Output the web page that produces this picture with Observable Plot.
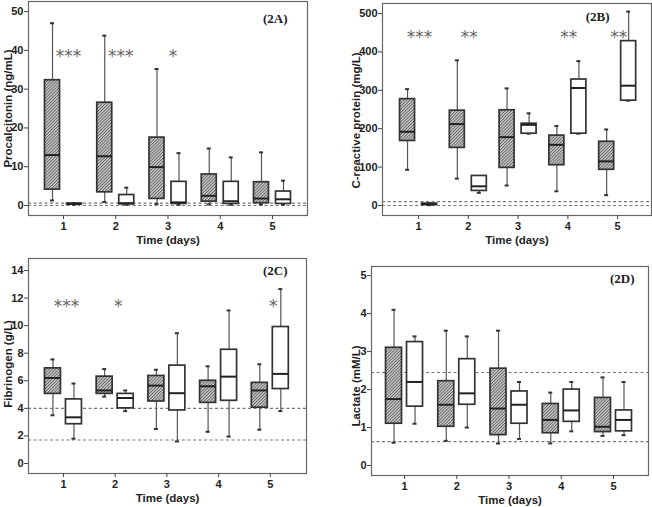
<!DOCTYPE html>
<html><head><meta charset="utf-8">
<script src="https://cdn.jsdelivr.net/npm/d3@7"></script>
<script src="https://cdn.jsdelivr.net/npm/@observablehq/plot@0.6"></script>
<style>
body{margin:0;background:#fff;}
#wrap{position:relative;width:652px;height:507px;overflow:hidden;}
#wrap svg{position:absolute;}
</style></head><body><div id="wrap"></div>
<script>
const days = [1, 2, 3, 4, 5];
// each entry: [min, q1, median, q3, max]
const pctHatched = [[1.3,4.1,13,32.3,47],[0.9,3.4,12.7,26.5,43.8],[0.4,1.7,9.9,17.5,35.2],[0.3,1.0,2.5,8.0,14.7],[0.3,0.6,1.8,6.0,13.7]];
const pctOpen    = [[0.2,0.3,0.4,0.5,0.6],[0.2,0.3,0.6,2.7,4.6],[0.2,0.4,0.8,6.1,13.5],[0.2,0.4,1.1,6.1,12.4],[0.2,0.4,1.6,3.6,6.4]];
const pctRef = [0, 0.6];
const pctStars = ["***", "***", "*", "", ""];
const pctTicks = [0, 10, 20, 30, 40, 50];

const crpHatched = [[93,168,192,277,303],[70,150,212,247,378],[52,98,178,248,305],[37,105,158,182,207],[27,93,115,166,198]];
const crpOpen    = [[1,2,3,5,6],[33,38,50,77,77],[187,187,210,213,240],[187,187,306,328,376],[273,273,312,428,505]];
const crpRef = [0, 10];
const crpStars = ["***", "**", "", "**", "**"];
const crpTicks = [0, 100, 200, 300, 400, 500];

const fibHatched = [[3.5,5.05,6.2,6.9,7.55],[4.85,5.05,5.3,6.3,6.85],[2.5,4.5,5.65,6.35,6.8],[2.3,4.4,5.6,6.0,7.05],[2.45,4.05,5.3,5.85,7.2]];
const fibOpen    = [[1.8,2.85,3.35,4.65,5.8],[3.8,4.0,4.75,5.05,5.3],[1.6,3.85,5.1,7.1,9.45],[1.95,4.55,6.3,8.25,11.1],[3.8,5.4,6.5,9.9,12.65]];
const fibRef = [1.7, 4];
const fibStars = ["***", "*", "", "", "*"];
const fibTicks = [0, 2, 4, 6, 8, 10, 12, 14];

const lacHatched = [[0.6,1.1,1.75,3.1,4.1],[0.65,1.02,1.6,2.22,3.55],[0.58,0.8,1.5,2.55,3.55],[0.58,0.85,1.2,1.62,1.92],[0.78,0.88,1.02,1.78,2.32]];
const lacOpen    = [[1.1,1.55,2.2,3.25,3.4],[1.0,1.6,1.9,2.8,3.4],[0.7,1.1,1.6,1.95,2.2],[0.9,1.15,1.45,2.0,2.2],[0.8,0.9,1.2,1.45,2.2]];
const lacRef = [0.63, 2.45];
const lacStars = ["", "", "", "", ""];
const lacTicks = [0, 1, 2, 3, 4, 5];

const panels = [
  {id:"A", left:0, top:0, width:326, height:253, m:[1,19,38,28], xd:[0.33,5.67], yd:[-2.58,52.6],
   hatched:pctHatched, open:pctOpen, ref:pctRef, stars:pctStars, starY:39, ticks:pctTicks,
   ytitle:"Procalcitonin (ng/mL)", ytdx:-20, ytdy:0, tag:"(2A)", tagdx:-20, tagdy:17, off:11, hw:7.5, sdx:5},
  {id:"B", left:326, top:0, width:326, height:253, m:[3,1,38,56], xd:[0.276,5.68], yd:[-26,526],
   hatched:crpHatched, open:crpOpen, ref:crpRef, stars:crpStars, starY:443, ticks:crpTicks,
   ytitle:"C-reactive protein (mg/L)", ytdx:-26, ytdy:11, tag:"(2B)", tagdx:-42, tagdy:13, off:11, hw:7.5, sdx:1},
  {id:"C", left:0, top:253, width:326, height:254, m:[5,20,34,28], xd:[0.324,5.70], yd:[-0.725,14.87],
   hatched:fibHatched, open:fibOpen, ref:fibRef, stars:fibStars, starY:11.55, ticks:fibTicks,
   ytitle:"Fibrinogen (g/L)", ytdx:-20.5, ytdy:-2, tag:"(2C)", tagdx:-19, tagdy:12, off:10.5, hw:8, sdx:3},
  {id:"D", left:326, top:253, width:326, height:254, m:[13,4,32,45], xd:[0.368,5.67], yd:[-0.263,5.24],
   hatched:lacHatched, open:lacOpen, ref:lacRef, stars:lacStars, starY:4, ticks:lacTicks,
   ytitle:"Lactate (mM/L)", ytdx:-15, ytdy:15, tag:"(2D)", tagdx:-14, tagdy:12, off:10.5, hw:8, sdx:0}
];

function toRows(arr, g) {
  return arr.map((s, i) => ({day: days[i], g, min: s[0], q1: s[1], med: s[2], q3: s[3], max: s[4]}));
}

const wrap = document.getElementById("wrap");
for (const p of panels) {
  const [mt, mr, mb, ml] = p.m;
  const pxPerDay = (p.width - ml - mr) / (p.xd[1] - p.xd[0]);
  const off = p.off / pxPerDay, hw = p.hw / pxPerDay, cw = 2 / pxPerDay;
  const rows = [...toRows(p.hatched, "h"), ...toRows(p.open, "o")];
  const cx = d => d.day + (d.g === "h" ? -off : off);
  const hRows = rows.filter(d => d.g === "h"), oRows = rows.filter(d => d.g === "o");
  const starRows = days.map((d, i) => ({day: d, s: p.stars[i]})).filter(d => d.s);
  const patId = "hatch" + p.id;
  const boxStyle = {x1: d => cx(d) - hw, x2: d => cx(d) + hw, y1: "q1", y2: "q3", stroke: "#333", strokeWidth: 1.7};
  const svg = Plot.plot({
    width: p.width, height: p.height,
    marginTop: mt, marginRight: mr, marginBottom: mb, marginLeft: ml,
    x: {domain: p.xd, axis: null},
    y: {domain: p.yd, axis: null},
    style: {fontFamily: "'Liberation Sans', Arial, sans-serif", fontSize: "11px", fontWeight: "bold", color: "#222", background: "transparent", overflow: "visible"},
    marks: [
      Plot.ruleY(p.ref, {stroke: "#777", strokeDasharray: "3,2.5", strokeWidth: 1.1}),
      Plot.ruleX(rows, {x: cx, y1: "q3", y2: "max", stroke: "#555", strokeWidth: 1.2}),
      Plot.ruleX(rows, {x: cx, y1: "min", y2: "q1", stroke: "#555", strokeWidth: 1.2}),
      Plot.ruleY(rows, {y: "max", x1: d => cx(d) - cw, x2: d => cx(d) + cw, stroke: "#333", strokeWidth: 2}),
      Plot.ruleY(rows, {y: "min", x1: d => cx(d) - cw, x2: d => cx(d) + cw, stroke: "#333", strokeWidth: 2}),
      Plot.rect(hRows, {...boxStyle, fill: `url(#${patId})`}),
      Plot.rect(oRows, {...boxStyle, fill: "white"}),
      Plot.ruleY(rows, {y: "med", x1: d => cx(d) - hw, x2: d => cx(d) + hw, stroke: "#222", strokeWidth: 2}),
      Plot.text(starRows, {x: "day", y: () => p.starY, text: "s", dx: p.sdx, dy: 2, fill: "#666", fontSize: 17, fontWeight: "normal", fontFamily: "'DejaVu Sans', sans-serif", letterSpacing: 1}),
      Plot.frame({stroke: "#666", strokeWidth: 1.2}),
      Plot.axisX({ticks: days, tickFormat: d => d, tickSize: 4, tickPadding: 2.5, stroke: "#444", label: null}),
      Plot.axisY({ticks: p.ticks, tickFormat: d => d, tickSize: 4, tickPadding: 1, stroke: "#444", label: null}),
      Plot.text([p.ytitle], {frameAnchor: "left", rotate: -90, dx: p.ytdx, dy: p.ytdy, lineAnchor: "middle", textAnchor: "middle", fontSize: 11.5, fill: "#222"}),
      Plot.text(["Time (days)"], {frameAnchor: "bottom", dy: 24.5, lineAnchor: "middle", fontSize: 11.5, fill: "#222"}),
      Plot.text([p.tag], {frameAnchor: "top-right", dx: p.tagdx, dy: p.tagdy, textAnchor: "end", lineAnchor: "middle", fontFamily: "'Liberation Serif', 'Times New Roman', serif", fontSize: 13, fontWeight: "bold", fill: "#222"})
    ]
  });
  const defs = d3.select(svg).insert("defs", ":first-child");
  const pat = defs.append("pattern").attr("id", patId).attr("patternUnits", "userSpaceOnUse")
    .attr("width", 2.2).attr("height", 2.2).attr("patternTransform", "rotate(45)");
  pat.append("rect").attr("width", 2.2).attr("height", 2.2).attr("fill", "#cdcdcd");
  pat.append("line").attr("x1", 0.45).attr("y1", 0).attr("x2", 0.45).attr("y2", 2.2).attr("stroke", "#5e5e5e").attr("stroke-width", 0.9);
  svg.style.left = p.left + "px";
  svg.style.top = p.top + "px";
  wrap.appendChild(svg);
}
</script></body></html>
